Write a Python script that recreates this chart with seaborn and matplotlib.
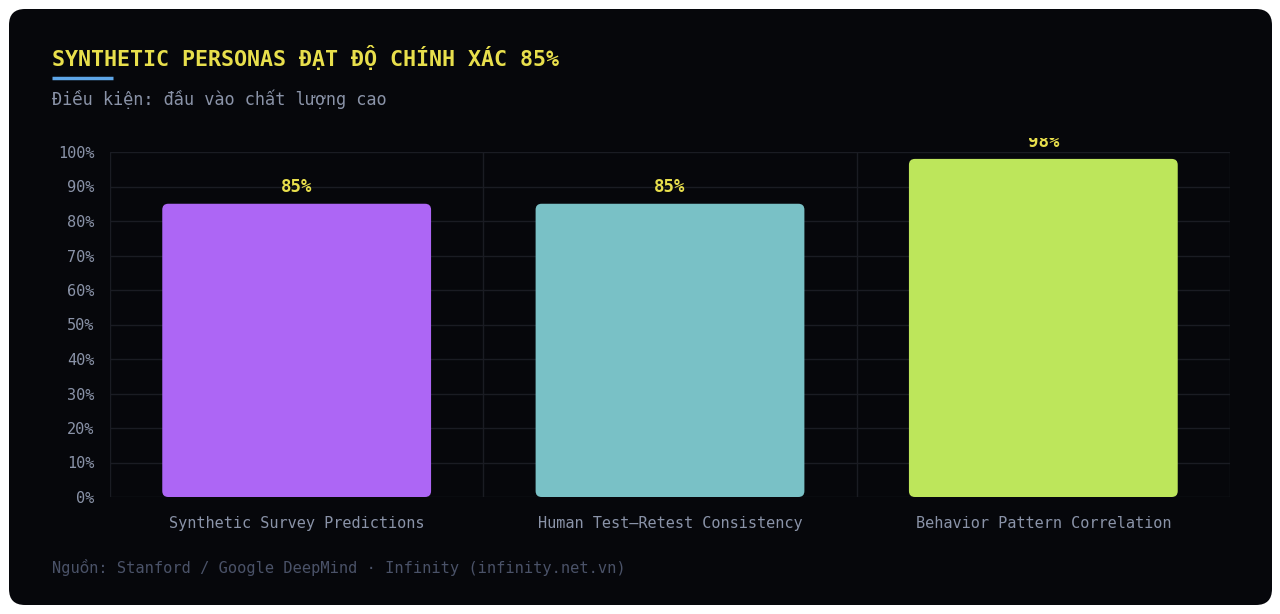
import matplotlib
matplotlib.use("Agg")
import matplotlib.pyplot as plt
import seaborn as sns
from matplotlib.patches import FancyBboxPatch
from matplotlib.transforms import Bbox, TransformedBbox
from matplotlib.lines import Line2D

categories = ["Synthetic Survey Predictions", "Human Test\u2013Retest Consistency", "Behavior Pattern Correlation"]
values = [85, 85, 98]
value_labels = ["85%", "85%", "98%"]
bar_colors = ["#ad66f5", "#79c1c6", "#bde65b"]
yticks = [0, 10, 20, 30, 40, 50, 60, 70, 80, 90, 100]
ytick_labels = [f"{v}%" for v in yticks]
title = "SYNTHETIC PERSONAS \u0110\u1ea0T \u0110\u1ed8 CH\u00cdNH X\u00c1C 85%"
subtitle = "\u0110i\u1ec1u ki\u1ec7n: \u0111\u1ea7u v\u00e0o ch\u1ea5t l\u01b0\u1ee3ng cao"
source = "Ngu\u1ed3n: Stanford / Google DeepMind \u00b7 Infinity (infinity.net.vn)"

sns.set_theme(style="dark")
plt.rcParams["font.family"] = ["DejaVu Sans Mono", "DejaVu Sans"]

W, H = 1280, 614
fig = plt.figure(figsize=(12.8, 6.14), dpi=100)
fig.patch.set_facecolor("white")

BG = "#06070b"
GRID = "#1a1c23"
TICK = "#8a93a8"

card = FancyBboxPatch((9, 9), 1263, 596, boxstyle="round,pad=0,rounding_size=16",
                      transform=None, facecolor=BG, edgecolor="none", zorder=-10)
fig.patches.append(card)

ax = fig.add_axes([110 / W, 117 / H, 1120 / W, 345 / H])
ax.set_zorder(2)
ax.set_facecolor(BG)

sns.barplot(x=categories, y=values, hue=categories, palette=bar_colors,
            legend=False, width=0.72, ax=ax, saturation=1)

ax.set_xlim(-0.5, 2.5)
ax.set_ylim(0, 100)

x_per_px = 3.0 / 1120
y_per_px = 100.0 / 345
r_px = 6
for p in list(ax.patches):
    x0, y0 = p.get_x(), p.get_y()
    w, h = p.get_width(), p.get_height()
    fc = p.get_facecolor()
    p.remove()
    rb = FancyBboxPatch((x0, y0), w, h,
                        boxstyle=f"round,pad=0,rounding_size={r_px * x_per_px}",
                        mutation_aspect=y_per_px / x_per_px,
                        facecolor=fc, edgecolor="none", zorder=3)
    ax.add_patch(rb)

ax.set_yticks(yticks)
ax.set_yticklabels(ytick_labels)
ax.set_xticks(range(len(categories)))
ax.set_xticklabels(categories)
ax.set_xticks([-0.5, 0.5, 1.5, 2.5], minor=True)
ax.grid(False)
for y in yticks:
    ax.axhline(y, color=GRID, lw=1, zorder=1)
for xb in [-0.5, 0.5, 1.5, 2.5]:
    ax.axvline(xb, color=GRID, lw=1, zorder=1)
for s in ax.spines.values():
    s.set_visible(False)

ax.tick_params(axis="y", which="major", length=8.6, width=1, color=GRID,
               labelcolor=TICK, labelsize=11, pad=2.5)
ax.tick_params(axis="x", which="major", length=0, labelcolor=TICK, labelsize=11, pad=14)
ax.tick_params(axis="x", which="minor", length=10, width=1, color=GRID)
ax.set_xlabel("")
ax.set_ylabel("")

clip = TransformedBbox(Bbox.from_extents(0, 0, 1, (H - 138) / H), fig.transFigure)
for i, (v, lab) in enumerate(zip(values, value_labels)):
    t = ax.annotate(lab, (i, v), xytext=(0, 8), textcoords="offset pixels",
                    ha="center", va="bottom", color="#e8df4c", fontsize=12.5,
                    fontweight="bold", annotation_clip=False, zorder=5)
    t.set_clip_on(True)
    t.set_clip_box(clip)

fig.text(52 / W, 1 - 57 / H, title, color="#e8df4c", fontsize=15.6,
         fontweight="bold", va="center", ha="left")
fig.add_artist(Line2D([52 / W, 113 / W], [1 - 78 / H, 1 - 78 / H],
                      transform=fig.transFigure, color="#5ea6e8", lw=2.5,
                      solid_capstyle="butt"))
fig.text(52 / W, 1 - 99 / H, subtitle, color=TICK, fontsize=12.2, va="center", ha="left")
fig.text(52 / W, 1 - 567 / H, source, color="#4a5268", fontsize=11.1, va="center", ha="left")

fig.savefig("out.png", dpi=100, facecolor=fig.get_facecolor())
